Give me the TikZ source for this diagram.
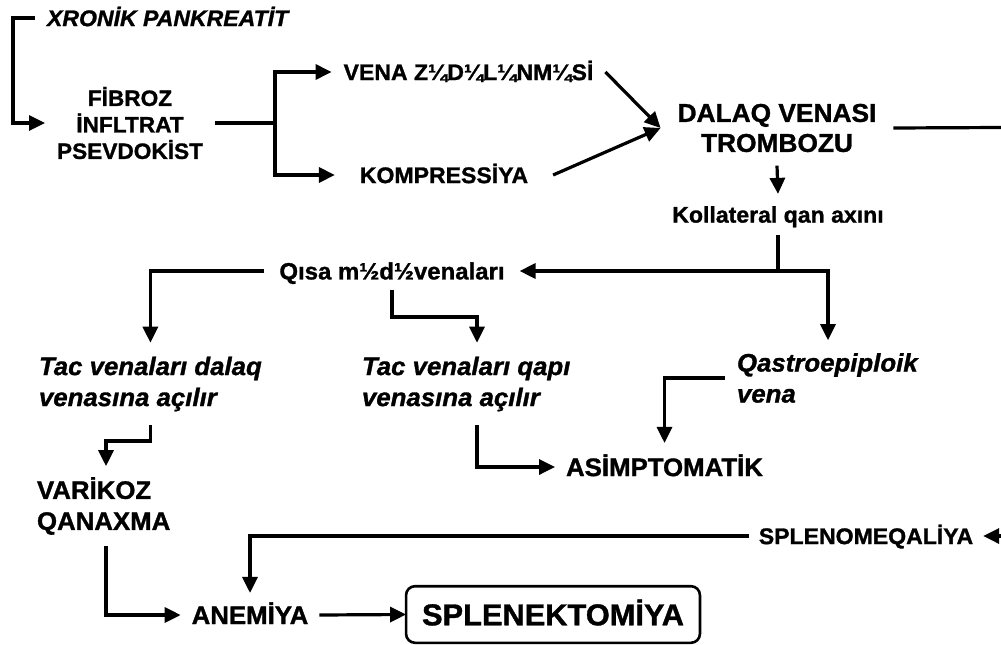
\documentclass[tikz,border=0pt]{standalone}
\usepackage{fontspec}
\setmainfont{Liberation Sans}[FakeStretch=1.02, BoldFeatures={FakeBold=1.2}, BoldItalicFeatures={FakeBold=1.2}]
\usetikzlibrary{arrows.meta}
\begin{document}
\begin{tikzpicture}[x=1pt,y=-1pt,
  every node/.style={inner sep=0pt, outer sep=0pt},
  ln/.style={line width=3.2pt},
  arr/.style={line width=3.2pt, -{Triangle[length=16pt,width=15pt]}},
  arrb/.style={line width=3.2pt, {Triangle[length=16pt,width=15pt]}-{Triangle[length=16pt,width=15pt]}},
  sm/.style={font=\fontsize{22.6}{26.5}\selectfont\bfseries, text height=16.2pt, text depth=0pt},
  smi/.style={font=\fontsize{22.6}{26.5}\selectfont\bfseries\itshape, text height=16.2pt, text depth=0pt},
  lg/.style={font=\fontsize{25.3}{31}\selectfont\bfseries, text height=18.1pt, text depth=0pt},
  fibs/.style={font=\fontsize{22.2}{26.5}\selectfont\bfseries, align=center},
  dal/.style={font=\fontsize{25.8}{30}\selectfont\bfseries, align=center},
  itl/.style={font=\fontsize{25.3}{31}\selectfont\bfseries\itshape, align=left},
  bl/.style={font=\fontsize{25.3}{31}\selectfont\bfseries, align=left},
  bigbox/.style={draw, line width=2.6pt, rounded corners=9pt, font=\fontsize{30.2}{30}\selectfont\bfseries, text height=21.6pt, text depth=0pt}
]
\fill[white] (0,0) rectangle (1001,645);
\useasboundingbox (0,0) rectangle (1001,645);

% nodes
\node[smi, anchor=west, inner xsep=12pt] (xron) at (35,18) {XRONİK PANKREATİT};
\node[fibs, inner xsep=12pt, inner ysep=10pt] (fib) at (130,123) {FİBROZ\\İNFLTRAT\\PSEVDOKİST};
\node[sm, inner xsep=12pt] (vena) at (468.5,72) {VENA Z¼D¼L¼NM¼Sİ};
\node[sm, inner xsep=25pt] (komp) at (444,175) {KOMPRESSİYA};
\node[dal, inner xsep=17pt, inner ysep=13.5pt] (dalaq) at (777,128) {DALAQ VENASI\\TROMBOZU};
\node[sm, inner ysep=12.5pt] (koll) at (778,214.5) {Kollateral qan axını};
\node[font=\fontsize{23.5}{26}\selectfont\bfseries, text height=16.8pt, text depth=0pt, inner xsep=15pt, inner ysep=11pt] (qisa) at (392,271) {Qısa m½d½venaları};
\node[itl, anchor=west, inner ysep=14pt] (tacd) at (39,384) {Tac venaları dalaq\\venasına açılır};
\node[itl, anchor=west, inner ysep=14pt] (tacq) at (362,384) {Tac venaları qapı\\venasına açılır};
\node[itl, anchor=west, inner xsep=12pt, inner ysep=13pt] (qastro) at (725,378) {Qastroepiploik\\vena};
\node[lg, inner xsep=11pt, inner ysep=15pt] (asim) at (664.5,467) {ASİMPTOMATİK};
\node[bl, anchor=west, inner ysep=11pt] (vari) at (37,506) {VARİKOZ\\QANAXMA};
\node[lg, inner xsep=11pt, inner ysep=13pt] (anem) at (250,615) {ANEMİYA};
\node[bigbox, inner xsep=16pt, inner ysep=17.5pt] (splx) at (553,614.5) {SPLENEKTOMİYA};
\node[sm, inner xsep=10pt] (splm) at (866,536) {SPLENOMEQALİYA};

% coordinates
\coordinate (k1) at (13,18);
\coordinate (j1) at (275,123);
\coordinate (redge) at (1001,127.5);
\coordinate (j2) at (778,271);
\coordinate (j3) at (828,271);
\coordinate (j4) at (392,317);
\coordinate (tqx) at (477,0);
\coordinate (b2) at (106,441);
\coordinate (redge2) at (1001,536);

% connectors
\draw[arr] (xron.west) -- (k1) |- (fib.west);
\draw[arr] (fib.east) -- (j1) |- (vena.west);
\draw[arr] (j1) |- (komp.west);
\draw[arr] (vena.east) -- (dalaq.west);
\draw[arr] (komp.east) -- (dalaq.west);
\draw[ln] (dalaq.east) -- (redge);
\draw[arr] (dalaq.south) -- (koll.north);
\draw[ln] (koll.south) -- (j2);
\draw[arrb] (j3 |- qastro.north) -- (j3) -- (qisa.east);
\draw[arr] (qisa.west) -| (tacd.north);
\draw[arr] (qisa.south) -- (j4) -| (tqx |- tacq.north);
\draw[arr] (tqx |- tacq.south) |- (asim.west);
\draw[arr] (qastro.west) -| (asim.north);
\draw[arr] (tacd.south) |- (b2) -- (b2 |- vari.north);
\draw[arr] (b2 |- vari.south) |- (anem.west);
\draw[arr] (anem.east) -- (splx.west);
\draw[arr] (redge2) -- (splm.east);
\draw[arr] (splm.west) -| (anem.north);
\end{tikzpicture}
\end{document}
